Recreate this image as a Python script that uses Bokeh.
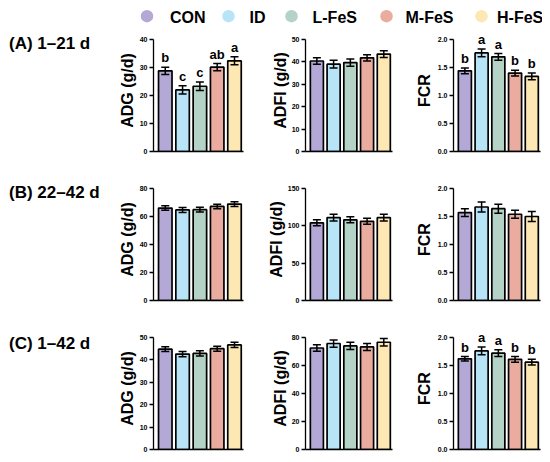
from bokeh.plotting import figure
from bokeh.layouts import row, column
from bokeh.models import (Range1d, FixedTicker, PrintfTickFormatter,
                          ColumnDataSource, Whisker, TeeHead)
from bokeh.core.properties import value
from bokeh.embed import file_html
from bokeh.resources import INLINE

FONT = "Liberation Sans"

# ---------------- data ----------------
groups = ["CON", "ID", "L-FeS", "M-FeS", "H-FeS"]
colors = ["#b4a9d6", "#b8e4f7", "#b4d2c6", "#e9ac9f", "#fde8b4"]
row_labels = ["(A) 1\u201321 d", "(B) 22\u201342 d", "(C) 1\u201342 d"]
metric_titles = ["ADG (g/d)", "ADFI (g/d)", "FCR"]

# (A) 1-21 d
adg_a = [28.8, 22.0, 23.3, 30.1, 32.4]
adg_a_err = [1.3, 1.5, 1.5, 1.3, 1.4]
adg_a_letters = ["b", "c", "c", "ab", "a"]
adfi_a = [40.4, 39.0, 39.7, 41.8, 43.5]
adfi_a_err = [1.5, 1.7, 1.6, 1.4, 1.5]
fcr_a = [1.44, 1.76, 1.69, 1.40, 1.34]
fcr_a_err = [0.05, 0.07, 0.06, 0.05, 0.06]
fcr_a_letters = ["b", "a", "a", "b", "b"]

# (B) 22-42 d
adg_b = [66.0, 64.7, 64.9, 67.2, 68.9]
adg_b_err = [1.6, 1.8, 1.7, 1.6, 1.7]
adfi_b = [104.0, 111.0, 108.0, 106.0, 111.0]
adfi_b_err = [4.0, 4.5, 4.0, 4.0, 4.5]
fcr_b = [1.57, 1.67, 1.64, 1.54, 1.50]
fcr_b_err = [0.07, 0.09, 0.08, 0.07, 0.09]

# (C) 1-42 d
adg_c = [44.8, 42.6, 42.9, 45.0, 46.7]
adg_c_err = [1.1, 1.2, 1.2, 1.1, 1.2]
adfi_c = [72.5, 75.7, 74.0, 73.3, 76.6]
adfi_c_err = [2.4, 2.6, 2.6, 2.5, 2.6]
fcr_c = [1.62, 1.76, 1.72, 1.61, 1.56]
fcr_c_err = [0.04, 0.07, 0.06, 0.05, 0.05]
fcr_c_letters = ["b", "a", "a", "b", "b"]

# y-axis ticks per panel
ticks_adg_a = [0, 10, 20, 30, 40]
ticks_adfi_a = [0, 10, 20, 30, 40, 50]
ticks_fcr = [0.0, 0.5, 1.0, 1.5, 2.0]
ticks_adg_b = [0, 20, 40, 60, 80]
ticks_adfi_b = [0, 50, 100, 150]
ticks_adg_c = [0, 10, 20, 30, 40, 50]
ticks_adfi_c = [0, 20, 40, 60, 80]

# ---------------- layout constants ----------------
FRAME_H = 122      # frame height in px
AXIS_H = 112       # px between 0 and top tick
COL_SPECS = [      # (fig width, min_border_left, min_border_right, title standoff)
    (140, 45, 5, 1),
    (147, 57, 3, 0),
    (147, 58, 2, 2),
]


def make_panel(vals, errs, letters, ticks, title, col, fig_h, b_top, b_bottom, fmt):
    width, bl, br, tstand = COL_SPECS[col]
    top_tick = ticks[-1]
    p = figure(width=width, height=fig_h, output_backend="svg", toolbar_location=None,
               x_range=Range1d(0.32, 5.52),
               y_range=Range1d(0, top_tick * FRAME_H / AXIS_H),
               min_border_left=bl, min_border_right=br,
               min_border_top=b_top, min_border_bottom=b_bottom)
    p.outline_line_color = None
    p.grid.visible = False
    p.background_fill_color = "white"
    p.border_fill_color = "white"

    xs = list(range(1, len(vals) + 1))
    src = ColumnDataSource(dict(
        x=xs, top=vals, color=colors,
        upper=[v + e for v, e in zip(vals, errs)],
        lower=[v - e for v, e in zip(vals, errs)],
        letter=letters if letters else [""] * len(vals),
    ))
    p.vbar(x="x", top="top", width=0.78, fill_color="color", line_color="black",
           line_width=1.7, source=src)
    w = Whisker(source=src, base="x", upper="upper", lower="lower",
                line_color="black", line_width=1.5, level="overlay",
                upper_head=TeeHead(size=8, line_color="black", line_width=1.5),
                lower_head=TeeHead(size=8, line_color="black", line_width=1.5))
    p.add_layout(w)
    if letters:
        p.text(x="x", y="upper", text="letter", source=src,
               text_font=value(FONT), text_font_style="bold", text_font_size="13px",
               text_align="center", text_baseline="bottom", y_offset=-2,
               text_color="black")

    ya = p.yaxis[0]
    ya.ticker = FixedTicker(ticks=ticks)
    ya.bounds = (0, top_tick)
    ya.formatter = PrintfTickFormatter(format=fmt)
    ya.axis_label = title
    ya.axis_label_text_font = FONT
    ya.axis_label_text_font_style = "bold"
    ya.axis_label_text_font_size = "16px"
    ya.axis_label_text_color = "black"
    ya.axis_label_standoff = tstand
    ya.major_label_text_font = FONT
    ya.major_label_text_font_style = "bold"
    ya.major_label_text_font_size = "7px"
    ya.major_label_text_color = "black"
    ya.major_label_standoff = 2
    ya.major_tick_out = 4
    ya.major_tick_in = 0
    ya.minor_tick_line_color = None
    ya.axis_line_width = 1.3
    ya.major_tick_line_width = 1.3
    ya.axis_line_color = "black"
    ya.major_tick_line_color = "black"

    xa = p.xaxis[0]
    xa.ticker = FixedTicker(ticks=[])
    xa.major_label_text_font_size = "0px"
    xa.major_tick_out = 0
    xa.major_tick_in = 0
    xa.major_label_standoff = 0
    xa.minor_tick_line_color = None
    xa.axis_line_width = 1.3
    xa.axis_line_color = "black"
    return p


def make_label(text, fig_h):
    p = figure(width=108, height=fig_h, output_backend="svg", toolbar_location=None,
               x_range=Range1d(0, 108), y_range=Range1d(fig_h, 0),
               x_axis_location=None, y_axis_location=None, min_border=0)
    p.outline_line_color = None
    p.grid.visible = False
    p.text(x=[8.5], y=[17], text=[text], text_font=value(FONT), text_font_style="bold",
           text_font_size="17px", text_align="left", text_baseline="middle",
           text_color="black")
    return p


# legend strip
legend_circle_x = [146.5, 228, 291, 386, 481]
legend_text_x = [169.5, 249, 312, 405, 496.5]
leg = figure(width=542, height=28, output_backend="svg", toolbar_location=None,
             x_range=Range1d(0, 542), y_range=Range1d(28, 0),
             x_axis_location=None, y_axis_location=None, min_border=0)
leg.outline_line_color = None
leg.grid.visible = False
leg.scatter(x=legend_circle_x, y=[15.7] * 5, size=12.5, marker="circle",
            fill_color=colors, line_color=None)
leg.text(x=legend_text_x, y=[16.5] * 5, text=groups, text_font=value(FONT),
         text_font_style="bold", text_font_size="16px", text_align="left",
         text_baseline="middle", text_color="black")

rows_data = [
    [(adg_a, adg_a_err, adg_a_letters, ticks_adg_a, "%d"),
     (adfi_a, adfi_a_err, None, ticks_adfi_a, "%d"),
     (fcr_a, fcr_a_err, fcr_a_letters, ticks_fcr, "%.1f")],
    [(adg_b, adg_b_err, None, ticks_adg_b, "%d"),
     (adfi_b, adfi_b_err, None, ticks_adfi_b, "%d"),
     (fcr_b, fcr_b_err, None, ticks_fcr, "%.1f")],
    [(adg_c, adg_c_err, None, ticks_adg_c, "%d"),
     (adfi_c, adfi_c_err, None, ticks_adfi_c, "%d"),
     (fcr_c, fcr_c_err, fcr_c_letters, ticks_fcr, "%.1f")],
]
row_heights = [149, 149, 126]
row_bottoms = [26, 26, 3]

rows = []
for r, specs in enumerate(rows_data):
    fh = row_heights[r]
    figs = [make_label(row_labels[r], fh)]
    for c, (vals, errs, lets, ticks, fmt) in enumerate(specs):
        figs.append(make_panel(vals, errs, lets, ticks, metric_titles[c], c,
                               fh, 1, row_bottoms[r], fmt))
    rows.append(row(*figs, spacing=0))

layout = column(leg, *rows, spacing=0)

open("out.html", "w").write(file_html(layout, INLINE))
